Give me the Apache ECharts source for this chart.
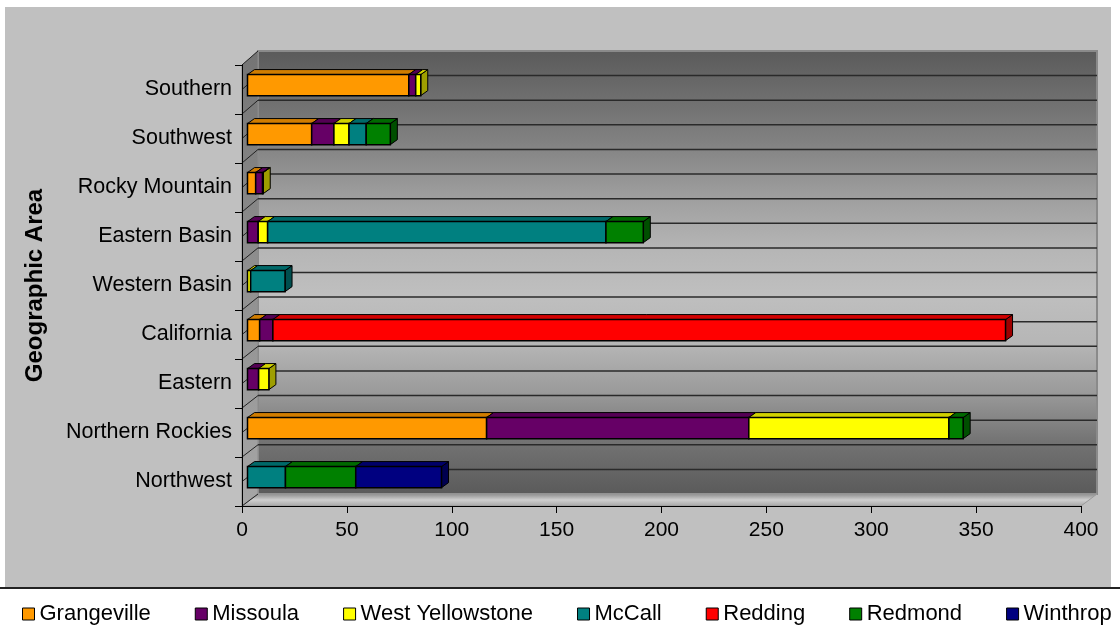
<!DOCTYPE html>
<html>
<head>
<meta charset="utf-8">
<title>Geographic Area</title>
<script src="https://cdn.jsdelivr.net/npm/echarts@6/dist/echarts.min.js"></script>
<style>
  html, body { margin: 0; padding: 0; background: #fff; }
  #main { width: 1120px; height: 637px; }
</style>
</head>
<body>
<div id="main"></div>
<script>
  // 数据（从下往上）
  const areas = ['Northwest', 'Northern Rockies', 'Eastern', 'California', 'Western Basin', 'Eastern Basin', 'Rocky Mountain', 'Southwest', 'Southern']
  const grangeville = [0, 114, 0, 5.8, 0, 0, 3.9, 30.6, 76.9]
  const missoula = [0, 125, 5.3, 6.3, 0, 5.1, 3.3, 10.6, 3.3]
  const westYellowstone = [0, 95.4, 4.9, 0, 1.5, 4.5, 0.3, 7.2, 2.4]
  const mccall = [18.1, 0, 0, 0, 16.4, 161.3, 0, 8.2, 0]
  const redding = [0, 0, 0, 349.3, 0, 0, 0, 0, 0]
  const redmond = [33.5, 6.8, 0, 0, 0, 17.8, 0, 11.5, 0]
  const winthrop = [40.9, 0, 0, 0, 0, 0, 0, 0, 0]
  const seriesNames = ['Grangeville', 'Missoula', 'West Yellowstone', 'McCall', 'Redding', 'Redmond', 'Winthrop']
  const seriesValues = [grangeville, missoula, westYellowstone, mccall, redding, redmond, winthrop]
  const seriesColors = ['#ff9900', '#660066', '#ffff00', '#008080', '#ff0000', '#008000', '#000080']
  const xMin = 0
  const xMax = 400
  const xStep = 50

  const font = "'Liberation Sans', Arial, sans-serif"
  // 绘图区前面和后墙的位置
  const front = { left: 242, top: 65, right: 1081, bottom: 506 }
  const back = { dx: 16, top: 51, bottom: 494 }

  function shade(hex, k) {
    const n = parseInt(hex.slice(1), 16)
    const r = Math.round(((n >> 16) & 255) * k)
    const g = Math.round(((n >> 8) & 255) * k)
    const b = Math.round((n & 255) * k)
    return 'rgb(' + r + ',' + g + ',' + b + ')'
  }

  function grad(stops) {
    return new echarts.graphic.LinearGradient(0, 0, 0, 1, stops.map(function (s) {
      return { offset: s[0], color: s[1] }
    }))
  }

  // 墙和地板
  function walls() {
    const bl = front.left + back.dx
    const br = front.right + back.dx
    const list = []
    list.push({ type: 'rect', z: 0, shape: { x: 5, y: 7, width: 1106, height: 580 }, style: { fill: '#c0c0c0' } })
    list.push({ type: 'line', z: 0, shape: { x1: 0, y1: 588, x2: 1120, y2: 588 }, style: { stroke: '#222', lineWidth: 2 } })
    list.push({
      type: 'rect', z: 1,
      shape: { x: bl, y: back.top, width: br - bl, height: back.bottom - back.top },
      style: {
        fill: grad([[0, '#5a5a5a'], [0.2, '#808080'], [0.32, '#9c9c9c'], [0.45, '#b6b6b6'], [0.55, '#bfbfbf'], [0.66, '#b6b6b6'], [0.77, '#9a9a9a'], [0.88, '#737373'], [1, '#5a5a5a']]),
        stroke: '#8a8a8a', lineWidth: 2
      }
    })
    list.push({
      type: 'polygon', z: 1,
      shape: { points: [[front.left, front.top], [bl, back.top], [bl, back.bottom], [front.left, front.bottom]] },
      style: { fill: grad([[0, '#747474'], [0.5, '#909090'], [1, '#a6a6a6']]), stroke: '#8a8a8a', lineWidth: 1 }
    })
    list.push({
      type: 'polygon', z: 1,
      shape: { points: [[front.left, front.bottom], [bl, back.bottom], [br, back.bottom], [front.right, front.bottom]] },
      style: { fill: grad([[0, '#8a8a8a'], [0.5, '#cfcfcf'], [1, '#a4a4a4']]), stroke: '#9a9a9a', lineWidth: 1 }
    })
    // 网格线：每个类别两条
    const n = areas.length * 2
    for (let k = 0; k <= n; k++) {
      const fy = front.top + k * (front.bottom - front.top) / n
      const by = back.top + k * (back.bottom - back.top) / n
      if (k > 0 && k < n) {
        list.push({ type: 'line', z: 2, shape: { x1: bl, y1: by, x2: br, y2: by }, style: { stroke: '#2a2a2a', lineWidth: 1.5 } })
      }
      list.push({ type: 'line', z: 2, shape: { x1: front.left, y1: fy, x2: bl, y2: by }, style: { stroke: '#222', lineWidth: 1 } })
    }
    return list
  }

  // 立体柱子
  function renderBox(params, api) {
    const cat = api.value(0)
    const p0 = api.coord([api.value(1), cat])
    const p1 = api.coord([api.value(2), cat])
    const h = api.size([0, 1])[1] * 0.43
    const color = seriesColors[params.seriesIndex]
    const x0 = p0[0] + 5.5
    const x1 = p1[0] + 5.5
    const yt = p0[1] - 4.4 - h / 2
    const yb = yt + h
    const dx = 7
    const dy = -5
    return {
      type: 'group',
      children: [
        {
          type: 'polygon',
          shape: { points: [[x1, yt], [x1 + dx, yt + dy], [x1 + dx, yb + dy], [x1, yb]] },
          style: { fill: shade(color, 0.62), stroke: '#000', lineWidth: 1 }
        },
        {
          type: 'polygon',
          shape: { points: [[x0, yt], [x0 + dx, yt + dy], [x1 + dx, yt + dy], [x1, yt]] },
          style: { fill: shade(color, 0.82), stroke: '#000', lineWidth: 1 }
        },
        {
          type: 'rect',
          shape: { x: x0, y: yt, width: x1 - x0, height: h },
          style: { fill: color, stroke: '#000', lineWidth: 1.5 }
        }
      ]
    }
  }

  function $each(arr, fn) {
    arr.forEach(function (ele, index) { fn(index, ele) })
  }

  const series = []
  const sums = areas.map(function () { return 0 })
  $each(seriesValues, function (i, vals) {
    const data = []
    vals.forEach(function (v, c) {
      if (v > 0) data.push([c, sums[c], sums[c] + v])
      sums[c] += v
    })
    series.push({
      name: seriesNames[i],
      type: 'custom',
      z: 10,
      renderItem: renderBox,
      itemStyle: { color: seriesColors[i] },
      encode: { x: [1, 2], y: 0 },
      data: data
    })
  })

  const myChart = echarts.init(document.getElementById('main'))
  const option = {
    backgroundColor: '#fff',
    animation: false,
    graphic: walls(),
    grid: {
      left: front.left,
      top: front.top,
      width: front.right - front.left,
      height: front.bottom - front.top,
      outerBoundsMode: 'none'
    },
    legend: {
      data: seriesNames,
      left: 22,
      top: 602,
      padding: 0,
      icon: 'rect',
      itemWidth: 12,
      itemHeight: 12,
      itemGap: 44,
      itemStyle: { borderColor: '#000', borderWidth: 1 },
      textStyle: { fontFamily: font, fontSize: 22, color: '#000', lineHeight: 24 }
    },
    xAxis: {
      type: 'value',
      z: 5,
      min: xMin,
      max: xMax,
      interval: xStep,
      axisLine: { show: true, lineStyle: { color: '#000', width: 1 } },
      axisTick: { show: true, length: 7, lineStyle: { color: '#000' } },
      axisLabel: { fontFamily: font, fontSize: 21, color: '#000', margin: 14 },
      splitLine: { show: false }
    },
    yAxis: {
      type: 'category',
      z: 5,
      data: areas,
      name: 'Geographic Area',
      nameLocation: 'middle',
      nameGap: 195,
      nameTextStyle: { fontFamily: font, fontSize: 24, fontWeight: 'bold', color: '#000' },
      axisLine: { show: true, lineStyle: { color: '#000', width: 1 } },
      axisTick: { show: true, interval: 0, length: 7, lineStyle: { color: '#000' } },
      axisLabel: { fontFamily: font, fontSize: 21.5, color: '#000', margin: 10, interval: 0 },
      splitLine: { show: false }
    },
    series: series
  }
  myChart.setOption(option)

  window.onresize = function () {
    myChart.resize()
  }
</script>
</body>
</html>
